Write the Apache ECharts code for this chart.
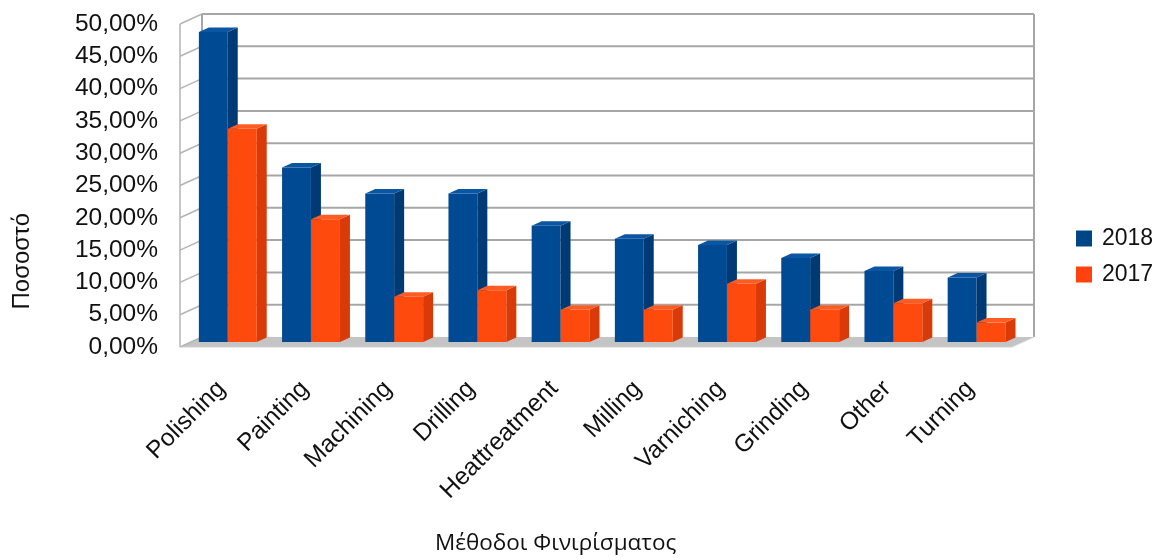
<!DOCTYPE html>
<html>
<head>
<meta charset="utf-8">
<script src="https://cdn.jsdelivr.net/npm/echarts@6/dist/echarts.min.js"></script>
<style>
  html, body { margin: 0; padding: 0; background: #ffffff; }
  #chart { width: 1164px; height: 558px; }
</style>
</head>
<body>
<div id="chart"></div>
<script>
// Finishing methods and their share per year
const categories = ['Polishing', 'Painting', 'Machining', 'Drilling', 'Heattreatment',
                    'Milling', 'Varniching', 'Grinding', 'Other', 'Turning'];
const values2018 = [48, 27, 23, 23, 18, 16, 15, 13, 11, 10];
const values2017 = [33, 19, 7, 8, 5, 5, 9, 5, 6, 3];
const seriesNames = ['2018', '2017'];
const yTicks = [0, 5, 10, 15, 20, 25, 30, 35, 40, 45, 50];
const yTickLabels = ['0,00%', '5,00%', '10,00%', '15,00%', '20,00%', '25,00%',
                     '30,00%', '35,00%', '40,00%', '45,00%', '50,00%'];

// Pseudo-3D geometry (pixels): depth of the floor, where the bar fronts sit, bar depth
const FLOOR_DX = 22, FLOOR_DY = -10;
const BAR_PLANE_DX = 11, BAR_PLANE_DY = -5;
const BAR_DX = 10, BAR_DY = -4.5;
const BAR_W = 0.347;               // bar width as a fraction of the category band
const SLOT = [-0.4055, -0.057];    // left edge of each bar relative to the band centre

const palette = {
  '2018': { front: '#004a94', side: '#003a74', top: '#0a56a2', legend: '#004586' },
  '2017': { front: '#ff4a0e', side: '#d93a08', top: '#ff5c24', legend: '#ff420e' }
};

const chart = echarts.init(document.getElementById('chart'), null, { renderer: 'canvas' });

// Floor, side wall and back wall with its grid lines
function renderFrame(params, api) {
  const cs = params.coordSys;
  const L = cs.x, R = cs.x + cs.width;
  const B = api.coord([0, 0])[1];
  const T = api.coord([0, yTicks[yTicks.length - 1]])[1];
  const children = [];
  const grid = { stroke: '#a6a6a6', lineWidth: 2 };
  const edge = { stroke: '#b4b4b4', lineWidth: 1.5 };

  children.push({
    type: 'polygon',
    shape: { points: [[L, B], [R, B], [R + FLOOR_DX, B + FLOOR_DY], [L + FLOOR_DX, B + FLOOR_DY]] },
    style: { fill: '#c4c4c4' }
  });
  yTicks.forEach(function (v) {
    const y = api.coord([0, v])[1];
    if (v > 0) {
      children.push({ type: 'line',
        shape: { x1: L + FLOOR_DX, y1: y + FLOOR_DY, x2: R + FLOOR_DX, y2: y + FLOOR_DY },
        style: grid });
    }
    children.push({ type: 'line',
      shape: { x1: L, y1: y, x2: L + FLOOR_DX, y2: y + FLOOR_DY },
      style: edge });
  });
  children.push({ type: 'line',
    shape: { x1: L, y1: T, x2: L, y2: B }, style: edge });
  children.push({ type: 'line',
    shape: { x1: L + FLOOR_DX, y1: T + FLOOR_DY, x2: L + FLOOR_DX, y2: B + FLOOR_DY }, style: grid });
  children.push({ type: 'line',
    shape: { x1: R + FLOOR_DX, y1: T + FLOOR_DY, x2: R + FLOOR_DX, y2: B + FLOOR_DY }, style: grid });
  children.push({ type: 'line',
    shape: { x1: R, y1: B, x2: R + FLOOR_DX, y2: B + FLOOR_DY }, style: { stroke: '#d6d6d6', lineWidth: 1 } });
  children.push({ type: 'line',
    shape: { x1: L, y1: B, x2: R, y2: B }, style: { stroke: '#d0d0d0', lineWidth: 1 } });
  return { type: 'group', children: children };
}

// One 3D box per value: front face, right side and top
function makeBarRenderer(slot, colors) {
  return function (params, api) {
    const i = api.value(0), v = api.value(1);
    const base = api.coord([i, 0]);
    const top = api.coord([i, v]);
    const band = api.size([1, 0])[0];
    const w = band * BAR_W;
    const x0 = base[0] + band * slot + BAR_PLANE_DX;
    const yb = base[1] + BAR_PLANE_DY;
    const yt = top[1] + BAR_PLANE_DY;
    return {
      type: 'group',
      children: [
        { type: 'rect', shape: { x: x0, y: yt, width: w, height: yb - yt },
          style: { fill: colors.front } },
        { type: 'polygon',
          shape: { points: [[x0 + w, yt], [x0 + w + BAR_DX, yt + BAR_DY], [x0 + w + BAR_DX, yb + BAR_DY], [x0 + w, yb]] },
          style: { fill: colors.side } },
        { type: 'polygon',
          shape: { points: [[x0, yt], [x0 + BAR_DX, yt + BAR_DY], [x0 + w + BAR_DX, yt + BAR_DY], [x0 + w, yt]] },
          style: { fill: colors.top } }
      ]
    };
  };
}

const option = {
  backgroundColor: '#ffffff',
  animation: false,
  textStyle: { fontFamily: 'Liberation Sans, Arial, sans-serif' },
  grid: { left: 180, right: 152, top: 24, bottom: 211, containLabel: false },
  legend: {
    orient: 'vertical',
    left: 1071,
    top: 222,
    itemWidth: 16,
    itemHeight: 16,
    itemGap: 13,
    icon: 'rect',
    data: seriesNames,
    textStyle: { fontSize: 23, color: '#111111', padding: [0, 0, 0, 5],
                 fontFamily: 'Liberation Sans, Arial, sans-serif' }
  },
  xAxis: {
    type: 'category',
    data: categories,
    axisLine: { show: false },
    axisTick: { show: false },
    axisLabel: {
      interval: 0,
      rotate: 45,
      margin: 38,
      fontSize: 24.5,
      color: '#111111',
      fontFamily: 'Liberation Sans, Arial, sans-serif'
    },
    splitLine: { show: false }
  },
  yAxis: {
    type: 'value',
    min: 0,
    max: 50,
    interval: 5,
    axisLine: { show: false },
    axisTick: { show: false },
    splitLine: { show: false },
    axisLabel: {
      margin: 22,
      fontSize: 24.5,
      color: '#111111',
      fontFamily: 'Liberation Sans, Arial, sans-serif',
      formatter: function (v) { return yTickLabels[yTicks.indexOf(v)]; }
    }
  },
  graphic: [
    {
      type: 'text',
      left: 10,
      top: 213,
      rotation: Math.PI / 2,
      style: { text: 'Ποσοστό', fontSize: 24, fill: '#111111',
               fontFamily: 'Liberation Sans, Arial, sans-serif' }
    },
    {
      type: 'text',
      left: 435,
      top: 532,
      style: { text: 'Μέθοδοι Φινιρίσματος', fontSize: 22.5, fill: '#111111',
               fontFamily: 'Open Sans, Noto Sans, sans-serif' }
    }
  ],
  series: [
    {
      type: 'custom',
      name: 'frame',
      silent: true,
      z: 1,
      renderItem: renderFrame,
      data: [[0, 0]],
      encode: { x: 0, y: 1 }
    },
    {
      type: 'custom',
      name: seriesNames[0],
      z: 2,
      itemStyle: { color: palette['2018'].legend },
      renderItem: makeBarRenderer(SLOT[0], palette['2018']),
      data: values2018.map(function (v, i) { return [i, v]; }),
      encode: { x: 0, y: 1 }
    },
    {
      type: 'custom',
      name: seriesNames[1],
      z: 3,
      itemStyle: { color: palette['2017'].legend },
      renderItem: makeBarRenderer(SLOT[1], palette['2017']),
      data: values2017.map(function (v, i) { return [i, v]; }),
      encode: { x: 0, y: 1 }
    }
  ]
};

chart.setOption(option);
</script>
</body>
</html>
